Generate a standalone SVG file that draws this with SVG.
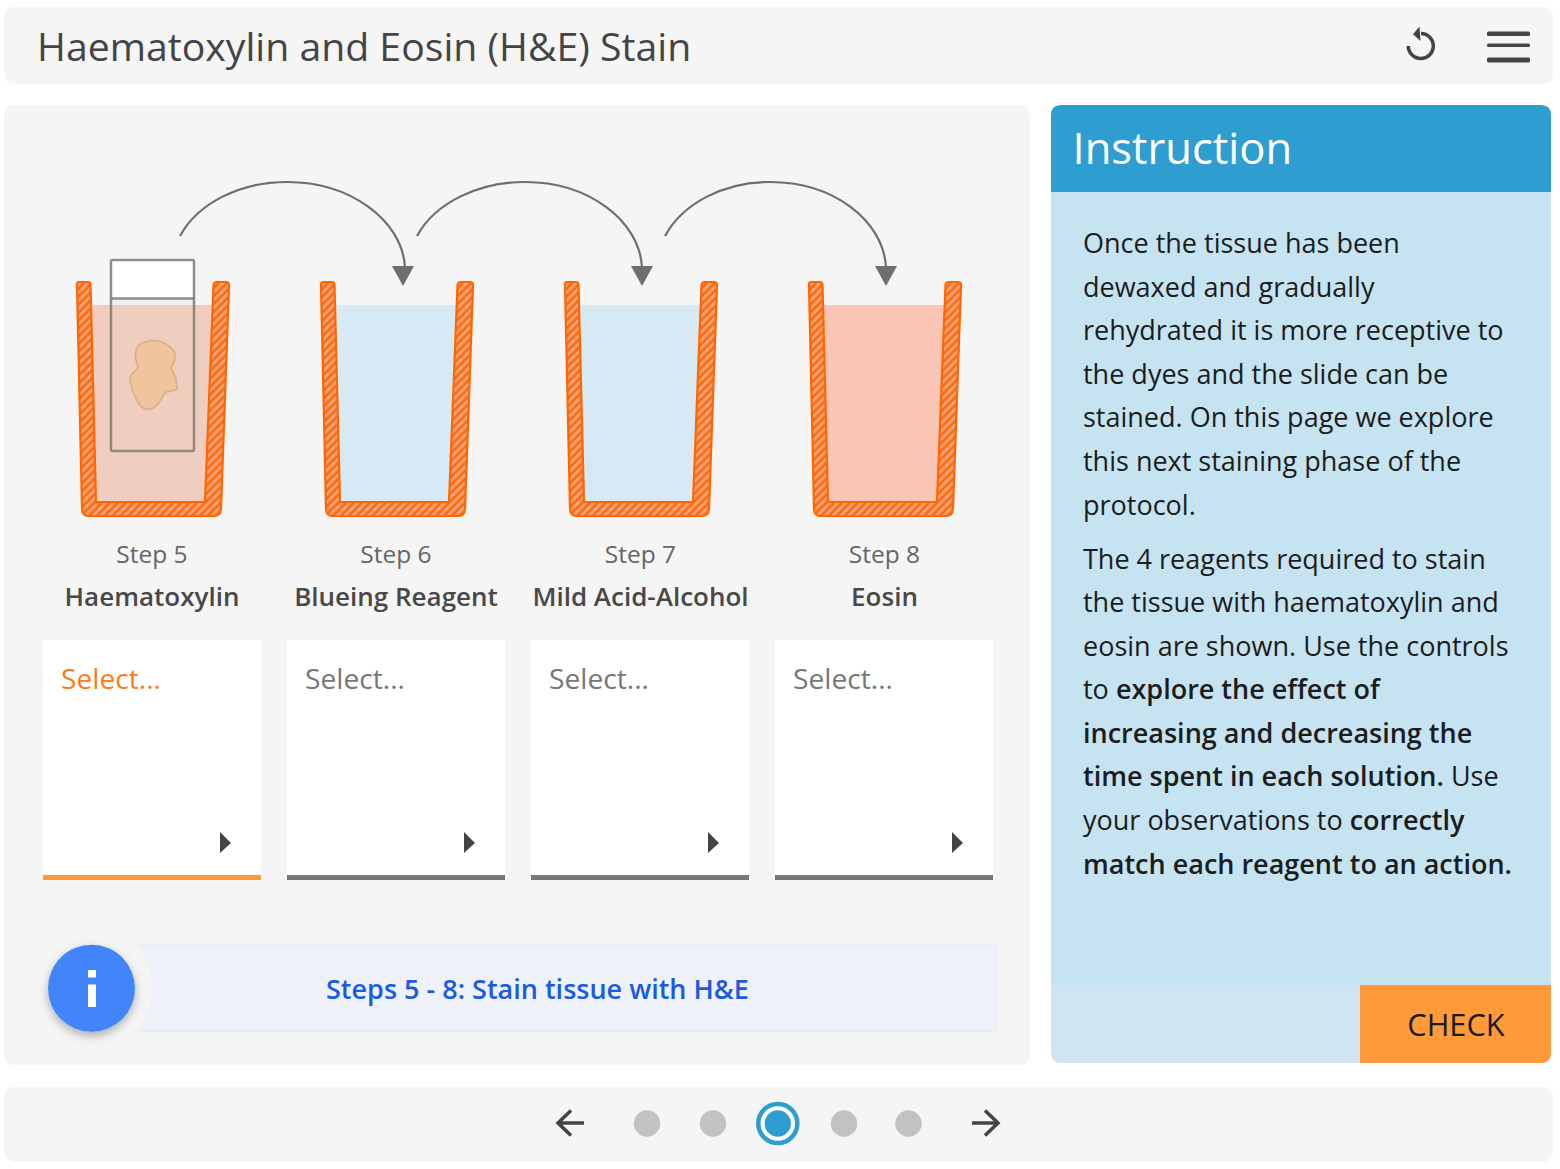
<svg xmlns="http://www.w3.org/2000/svg" width="1560" height="1169" viewBox="0 0 1560 1169">
<style>
text{font-family:"Open Sans","DejaVu Sans",sans-serif}
.panel{fill:#f5f5f5}
.wall{fill:url(#hatch);stroke:#ff6600;stroke-width:2.2;stroke-linejoin:round}
.step{font-size:24.5px;fill:#666;text-anchor:middle}
.name{font-size:26px;fill:#484848;text-anchor:middle;font-weight:600}
.sel{font-size:28.2px;fill:#777}
.body{font-size:27px;fill:#1c1c1c}
.body tspan.b{font-weight:600}
.arc{fill:none;stroke:#6e6e6e;stroke-width:2.2}
.head{fill:#6e6e6e}
.tri{fill:#444}
.dot{fill:#c2c2c2}
.nav{fill:none;stroke:#444;stroke-width:3.5}
</style>
<defs>
<pattern id="hatch" width="5.6" height="5.6" patternUnits="userSpaceOnUse" patternTransform="rotate(45)">
<rect width="5.6" height="5.6" fill="#ff6a0a"/><rect width="3" height="5.6" fill="#fba27a"/>
</pattern>
<path id="wall" d="M1,285Q0.500,282 3,282L12,282Q14.500,282 14.500,285L20,502L129,502L137.500,285Q138,282 140.500,282L150,282Q153,282 153,285L145,509Q144.500,516 138,516L12,516Q6.500,516 6,509Z"/>
<filter id="sh" x="-30%" y="-30%" width="160%" height="170%"><feDropShadow dx="0" dy="4" stdDeviation="5" flood-color="#000" flood-opacity="0.3"/></filter>
</defs>
<rect width="1560" height="1169" fill="#fff"/>
<g id="header">
<rect class="panel" x="4" y="7" width="1549" height="77" rx="10"/>
<text x="37" y="60.500" font-size="39.2px" fill="#444">Haematoxylin and Eosin (H&amp;E) Stain</text>
<g id="reset"><path d="M1421,33.500A12.500,12.500 0 1 1 1408.300,46" fill="none" stroke="#444" stroke-width="3.500"/><path class="tri" d="M1419.500,26.500L1413,34.300L1420.500,41Z"/></g>
<g id="menu" fill="#444"><rect x="1487" y="31.500" width="43" height="4.500" rx="1.500"/><rect x="1487" y="43.500" width="43" height="3.500" rx="1.500"/><rect x="1487" y="57.500" width="43" height="5" rx="1.500"/></g>
</g>
<rect id="main-panel" class="panel" x="4" y="105" width="1026" height="960" rx="10"/>
<g id="beaker-5">
<path d="M91,305L96,502L205,502L214,305Z" fill="#efcdbf"/>
<rect x="111" y="260" width="83" height="38" fill="#fff"/>
<rect x="111" y="298" width="83" height="7" fill="#eceef0"/>
<g fill="none" stroke="#7d7a70" stroke-opacity="0.85" stroke-width="2.500" stroke-linejoin="round"><rect x="111" y="260" width="83" height="191" rx="1.500"/><path d="M111,298.500H194"/></g>
<path d="M146,342C155,338 165,342 172,349C176,353 176,359 172,366C170,368 171,369 173,372C176,377 177,383 177,389C175,392 168,390 165,393C162,396 161,404 153,408C147,411 141,409 137,400C133,393 130,385 130,378C131,373 136,371 138,368C137,362 134,358 136,350C138,344 142,343 146,342Z" fill="#f0c49c" stroke="#dcb389" stroke-width="2"/>
<use href="#wall" x="76" class="wall"/>
</g>
<g id="beaker-6"><path d="M335,305L340,502L449,502L458,305Z" fill="#d7e9f5"/><use href="#wall" x="320" class="wall"/></g>
<g id="beaker-7"><path d="M579,305L584,502L693,502L702,305Z" fill="#d7e9f5"/><use href="#wall" x="564" class="wall"/></g>
<g id="beaker-8"><path d="M823,305L828,502L937,502L946,305Z" fill="#fac5b5"/><use href="#wall" x="808" class="wall"/></g>
<g id="connectors">
<path class="arc" d="M180,236C198,203 240,182 287,182C350,182 402,220 405,267"/><path class="head" d="M392,266L414,266L403,286Z"/>
<path class="arc" d="M417,236C435,203 478,182 525,182C588,182 639,220 642,267"/><path class="head" d="M631,266L653,266L642,286Z"/>
<path class="arc" d="M665,236C683,203 724,182 770,182C833,182 883,220 886,267"/><path class="head" d="M875,266L897,266L886,286Z"/>
</g>
<g id="label-5"><text class="step" x="152" y="563">Step 5</text><text class="name" x="152" y="606">Haematoxylin</text></g>
<g id="label-6"><text class="step" x="396" y="563">Step 6</text><text class="name" x="396" y="606">Blueing Reagent</text></g>
<g id="label-7"><text class="step" x="640.500" y="563">Step 7</text><text class="name" x="640.500" y="606">Mild Acid-Alcohol</text></g>
<g id="label-8"><text class="step" x="884.500" y="563">Step 8</text><text class="name" x="884.500" y="606">Eosin</text></g>
<g id="select-5"><rect x="43" y="640" width="218" height="240" fill="#fff"/><rect x="43" y="875" width="218" height="5" fill="#ff9a38"/><text class="sel" x="61" y="688.500" style="fill:#ff7a1a">Select...</text><path class="tri" d="M220,832L231,843L220,853Z"/></g>
<g id="select-6"><rect x="287" y="640" width="218" height="240" fill="#fff"/><rect x="287" y="875" width="218" height="5" fill="#777"/><text class="sel" x="305" y="688.500">Select...</text><path class="tri" d="M464,832L475,843L464,853Z"/></g>
<g id="select-7"><rect x="531" y="640" width="218" height="240" fill="#fff"/><rect x="531" y="875" width="218" height="5" fill="#777"/><text class="sel" x="549" y="688.500">Select...</text><path class="tri" d="M708,832L719,843L708,853Z"/></g>
<g id="select-8"><rect x="775" y="640" width="218" height="240" fill="#fff"/><rect x="775" y="875" width="218" height="5" fill="#777"/><text class="sel" x="793" y="688.500">Select...</text><path class="tri" d="M952,832L963,843L952,853Z"/></g>
<g id="info">
<rect x="125" y="945.500" width="871" height="86" fill="#eef1f7" stroke="#e3ecfb" stroke-width="1.500"/>
<circle cx="91.500" cy="988" r="61" fill="#f5f5f5"/>
<circle cx="91.500" cy="988.300" r="43.500" fill="#4285fb" filter="url(#sh)"/>
<rect x="88" y="970" width="8" height="7.500" fill="#fff"/><rect x="88" y="984.500" width="8" height="22.500" fill="#fff"/>
<text x="326" y="999" font-size="27px" font-weight="600" fill="#1a5be0">Steps 5 - 8: Stain tissue with H&amp;E</text>
</g>
<g id="instruction">
<path d="M1051,985V192H1551V985Z" fill="#c5e3f1"/>
<path d="M1051,192V115Q1051,105 1061,105H1541Q1551,105 1551,115V192Z" fill="#2e9ed0"/>
<text x="1072.500" y="164" font-size="43.5px" fill="#fff">Instruction</text>
<text class="body">
<tspan x="1083" y="253">Once the tissue has been</tspan>
<tspan x="1083" y="296.600">dewaxed and gradually</tspan>
<tspan x="1083" y="340.200">rehydrated it is more receptive to</tspan>
<tspan x="1083" y="383.800">the dyes and the slide can be</tspan>
<tspan x="1083" y="427.400">stained. On this page we explore</tspan>
<tspan x="1083" y="471">this next staining phase of the</tspan>
<tspan x="1083" y="514.600">protocol.</tspan>
<tspan x="1083" y="568.500">The 4 reagents required to stain</tspan>
<tspan x="1083" y="612">the tissue with haematoxylin and</tspan>
<tspan x="1083" y="655.600">eosin are shown. Use the controls</tspan>
<tspan x="1083" y="699.200">to <tspan class="b">explore the effect of</tspan></tspan>
<tspan x="1083" y="742.800" class="b">increasing and decreasing the</tspan>
<tspan x="1083" y="786.400"><tspan class="b">time spent in each solution.</tspan> Use</tspan>
<tspan x="1083" y="830">your observations to <tspan class="b">correctly</tspan></tspan>
<tspan x="1083" y="873.600" class="b">match each reagent to an action.</tspan>
</text>
<path d="M1051,985H1360V1063H1061Q1051,1063 1051,1053Z" fill="#cfe5f4"/>
<path d="M1360,985H1551V1053Q1551,1063 1541,1063H1360Z" fill="#ff9a38"/>
<text x="1456" y="1036" font-size="30.8px" fill="#1a1a1a" text-anchor="middle">CHECK</text>
</g>
<g id="footer">
<rect class="panel" x="4" y="1087" width="1549" height="75" rx="10"/>
<path class="nav" d="M584,1123H558M571,1110.500L558,1123L571,1135.500"/>
<circle class="dot" cx="647" cy="1123.500" r="13.200"/>
<circle class="dot" cx="713" cy="1123.500" r="13.200"/>
<circle cx="777.800" cy="1123.500" r="19.500" fill="#fff" stroke="#2e9ed0" stroke-width="4.500"/>
<circle cx="777.800" cy="1123.500" r="13.200" fill="#2e9ed0"/>
<circle class="dot" cx="844" cy="1123.500" r="13.200"/>
<circle class="dot" cx="908.500" cy="1123.500" r="13.200"/>
<path class="nav" d="M972,1123H998M985,1110.500L998,1123L985,1135.500"/>
</g>
</svg>
